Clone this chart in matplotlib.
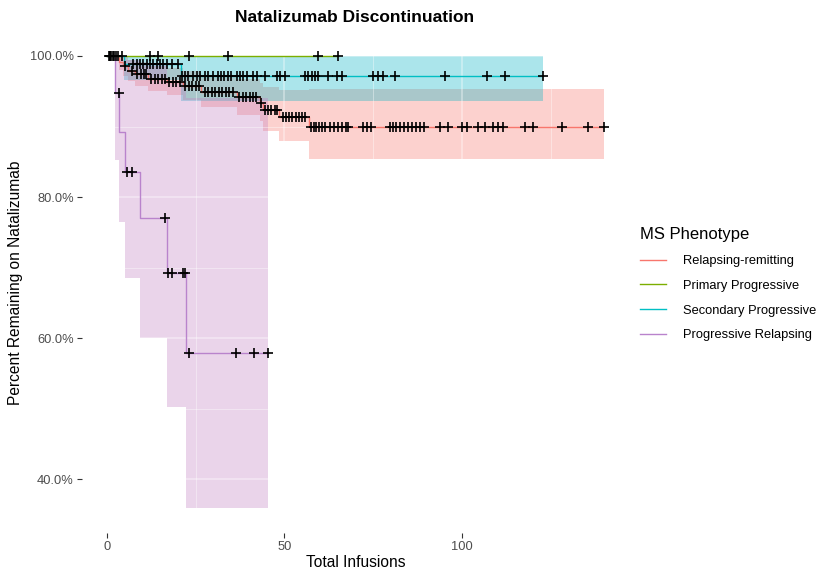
import matplotlib
matplotlib.use('Agg')
import matplotlib.pyplot as plt
import numpy as np
from matplotlib.ticker import FixedLocator, FuncFormatter
from matplotlib.lines import Line2D

plt.rcParams['font.family'] = ['Liberation Sans', 'DejaVu Sans']

# ---------------- data ----------------
groups = ["Relapsing-remitting", "Primary Progressive",
          "Secondary Progressive", "Progressive Relapsing"]

# Relapsing-remitting
rr_times = [0, 3.5, 4.5, 6.0, 8.0, 11.5, 17.0, 21.5, 26.5, 36.5, 43.0, 44.0, 48.5, 57.0]
rr_surv = [100, 99.2, 98.6, 97.9, 97.4, 96.7, 96.3, 95.8, 94.9, 94.2, 93.4, 92.4, 91.4, 89.9]
rr_lower = [100, 98.0, 97.2, 96.4, 95.8, 95.0, 94.5, 93.8, 92.8, 91.7, 90.8, 89.3, 88.0, 85.4]
rr_upper = [100, 100, 99.8, 99.4, 99.1, 98.6, 98.3, 97.9, 97.2, 96.8, 96.2, 95.6, 95.2, 95.3]
rr_end = 140.0
rr_censor = [0.5, 1.3, 2.1, 5.0, 7.0, 8.5, 9.5, 10.5, 11.0,
             12.5, 13.5, 14.5, 15.5, 16.3, 17.5, 18.5, 19.5, 20.5,
             22.0, 23.0, 24.0, 25.0, 26.0,
             27.5, 28.5, 29.5, 30.5, 31.5, 32.5, 33.5, 34.5, 35.5,
             37.2, 38.2, 39.2, 40.2, 41.2, 42.0, 43.5,
             44.5, 45.5, 46.3, 47.2, 48.0,
             49.5, 50.5, 51.3, 52.2, 53.2, 54.0, 55.0, 55.8,
             57.4, 58.2, 59.0, 59.8, 60.6, 61.4, 62.8, 64.0, 65.2, 66.2, 67.2, 68.0,
             72.1, 73.2, 74.4, 79.7, 80.6, 81.4, 82.5, 83.7, 84.8, 85.9, 87.0, 88.2, 89.3,
             93.8, 96.1, 100.0, 101.4, 104.5, 106.5, 108.7, 110.1, 111.5,
             117.7, 120.0, 128.2, 135.5, 140.0]

# Primary Progressive (no events)
pp_times = [0]
pp_surv = [100]
pp_lower = [100]
pp_upper = [100]
pp_end = 65.1
pp_censor = [1.0, 1.7, 3.0, 4.3, 12.1, 14.4, 23.1, 34.1, 59.4, 65.1]

# Secondary Progressive
sp_times = [0, 4.8, 21.0]
sp_surv = [100, 98.9, 97.1]
sp_lower = [100, 96.6, 93.6]
sp_upper = [100, 100, 100]
sp_end = 122.8
sp_censor = [0.8, 2.6, 7.4, 8.4, 9.3, 10.3, 11.2, 12.1, 13.1, 14.0, 15.0, 15.9, 16.8, 18.2, 20.0,
             21.1, 22.0, 22.8, 24.2, 25.4, 26.2, 27.6, 28.5, 29.9, 31.3, 32.1, 33.0, 34.1, 35.0,
             36.6, 37.5, 38.3, 39.4, 41.1, 42.3, 44.5, 47.9, 48.7, 50.1,
             55.8, 56.6, 57.7, 58.6, 59.4, 62.3, 64.8, 66.2, 74.9, 76.3, 77.7, 81.1,
             95.2, 107.0, 112.1, 122.8]

# Progressive Relapsing
pr_times = [0, 2.4, 3.5, 5.0, 9.3, 16.9, 22.3]
pr_surv = [100, 94.7, 89.2, 83.6, 77.1, 69.3, 57.9]
pr_lower = [100, 85.2, 76.5, 68.5, 60.0, 50.2, 35.9]
pr_upper = [100, 100, 100, 99.5, 99.0, 96.5, 94.0]
pr_end = 45.4
pr_censor = [3.3, 5.6, 7.0, 16.4, 17.2, 18.3, 21.5, 22.0, 23.1, 36.3, 41.4, 45.4]

line_colors = ["#F8766D", "#7CAE00", "#00BFC4", "#B983CC"]
fill_colors = ["#F8766D", "#7CAE00", "#00B3C4", "#C27FC2"]

series = [
    (rr_times, rr_surv, rr_lower, rr_upper, rr_end, rr_censor),
    (pp_times, pp_surv, pp_lower, pp_upper, pp_end, pp_censor),
    (sp_times, sp_surv, sp_lower, sp_upper, sp_end, sp_censor),
    (pr_times, pr_surv, pr_lower, pr_upper, pr_end, pr_censor),
]

# ---------------- figure ----------------
fig = plt.figure(figsize=(8.17, 5.74), dpi=100)
ax = fig.add_axes([82 / 817, 41 / 574, 547 / 817, 499.6 / 574])

for (t, s, lo, hi, end, cens), fc in zip(series, fill_colors):
    tt = np.append(t, end)
    ax.fill_between(tt, np.append(lo, lo[-1]), np.append(hi, hi[-1]),
                    step='post', color=fc, alpha=0.33, lw=0, zorder=1)

for (t, s, lo, hi, end, cens), lc in zip(series, line_colors):
    tt = np.append(t, end)
    ss = np.append(s, s[-1])
    ax.step(tt, ss, where='post', color=lc, lw=1.0, zorder=2)
    cy = [s[np.searchsorted(t, c, side='right') - 1] for c in cens]
    ax.plot(cens, cy, ls='none', marker='+', ms=7, mew=1.2, color='black', zorder=3)

ax.set_xlim(-7, 147)
ax.set_ylim(32.4, 103.2)
ax.xaxis.set_major_locator(FixedLocator([0, 50, 100]))
ax.xaxis.set_minor_locator(FixedLocator([25, 75, 125]))
ax.yaxis.set_major_locator(FixedLocator([40, 60, 80, 100]))
ax.yaxis.set_minor_locator(FixedLocator([50, 70, 90]))
ax.yaxis.set_major_formatter(FuncFormatter(lambda v, p: f"{v:.1f}%"))
ax.set_axisbelow('line')
ax.grid(True, which='major', color='white', lw=1.1, alpha=0.45)
ax.grid(True, which='minor', color='white', lw=0.6, alpha=0.45)
for sp in ax.spines.values():
    sp.set_visible(False)
ax.tick_params(which='major', length=3.5, width=0.8, color='#333333',
               labelcolor='#4D4D4D', labelsize=9.3, pad=2.5)
ax.tick_params(which='minor', length=0)

ax.set_xlabel("Total Infusions", fontsize=11.2, color='black', labelpad=1)
ax.set_ylabel("Percent Remaining on Natalizumab", fontsize=11.2, color='black', labelpad=5)
fig.text(355 / 817, 1 - 18 / 574, "Natalizumab Discontinuation",
         ha='center', va='center', fontsize=12.5, fontweight='bold')

handles = [Line2D([0], [0], color=c, lw=1.0) for c in line_colors]
leg = fig.legend(handles, groups, title="MS Phenotype", loc='upper left',
                 bbox_to_anchor=(634 / 817, 1 - 221 / 574), frameon=False,
                 fontsize=9.3, title_fontsize=12, handlelength=2.0,
                 handletextpad=1.3, labelspacing=0.98, borderpad=0)
leg._legend_box.align = "left"

fig.savefig("out.png", dpi=100)
